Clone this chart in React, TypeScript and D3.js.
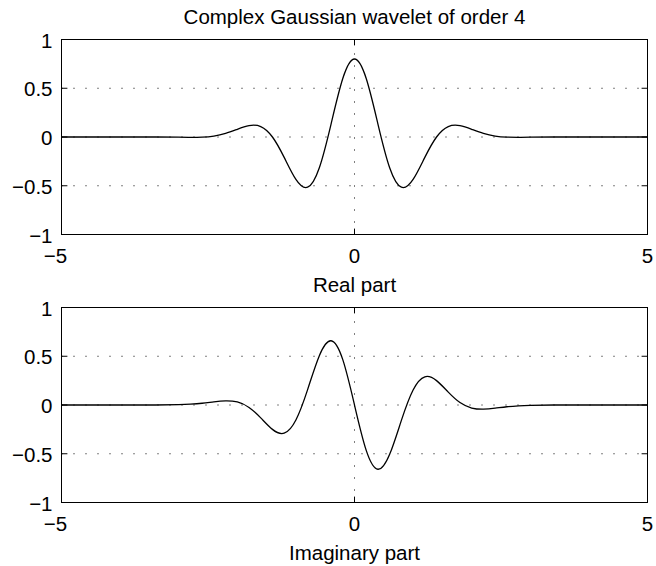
import React from "react";
import * as d3 from "d3";

// sample positions (x) and read values
const tValues = [-5, -4, -3.4, -3, -2.8, -2.6, -2.4, -2.2, -2, -1.8, -1.6, -1.4, -1.2, -1, -0.8, -0.6, -0.4, -0.2, 0,
  0.2, 0.4, 0.6, 0.8, 1, 1.2, 1.4, 1.6, 1.8, 2, 2.2, 2.4, 2.6, 2.8, 3, 3.4, 4, 5];
const realValues = [0, 0, 0, -0.002, -0.003, -0.001, 0.010, 0.037, 0.079, 0.116, 0.107, 0.000, -0.209, -0.435, -0.515, -0.315, 0.133, 0.600, 0.800,
  0.600, 0.133, -0.315, -0.515, -0.435, -0.209, 0.000, 0.107, 0.116, 0.079, 0.037, 0.010, -0.001, -0.003, -0.002, 0, 0, 0];
const imagValues = [0, 0, 0, 0.003, 0.008, 0.018, 0.033, 0.043, 0.031, -0.025, -0.132, -0.250, -0.289, -0.154, 0.158, 0.506, 0.659, 0.465, 0,
  -0.465, -0.659, -0.506, -0.158, 0.154, 0.289, 0.250, 0.132, 0.025, -0.031, -0.043, -0.033, -0.018, -0.008, -0.003, 0, 0, 0];

const xTicks = [-5, 0, 5];
const yTicks = [-1, -0.5, 0, 0.5, 1];
const titleText = "Complex Gaussian wavelet of order 4";
const panelLabels = ["Real part", "Imaginary part"];

const W = 656, H = 566;
const left = 61.5, right = 647.5;
const panelTops = [39.5, 307.5];
const panelH = 195;
const FONT = "'Liberation Sans', Arial, Helvetica, sans-serif";
const FS = 20.5;
const TICK = 5.9;

const fmt = (v: number) => (v < 0 ? "\u2212" + String(Math.abs(v)) : String(v));

function Panel({ top, values, label }: { top: number; values: number[]; label: string }) {
  const x = d3.scaleLinear().domain([-5, 5]).range([left, right]);
  const y = d3.scaleLinear().domain([-1, 1]).range([top + panelH, top]);
  const line = d3.line<number>()
    .x((_, i) => x(tValues[i]))
    .y((d) => y(d))
    .curve(d3.curveNatural);
  const bottom = top + panelH;
  return (
    <g>
      {/* grid */}
      {yTicks.filter((v) => v !== -1 && v !== 1).map((v) => (
        <line key={"gy" + v} x1={left} x2={right} y1={y(v)} y2={y(v)} stroke="#000" strokeWidth={1}
          strokeDasharray="1,11" />
      ))}
      {xTicks.filter((v) => v !== -5 && v !== 5).map((v) => (
        <line key={"gx" + v} x1={x(v)} x2={x(v)} y1={bottom} y2={top} stroke="#000" strokeWidth={1}
          strokeDasharray="1,11" />
      ))}
      {/* curve */}
      <path d={line(values) || ""} fill="none" stroke="#000" strokeWidth={1.3} />
      {/* box */}
      <rect x={left} y={top} width={right - left} height={panelH} fill="none" stroke="#000" strokeWidth={1} />
      {/* ticks */}
      {yTicks.map((v) => (
        <g key={"ty" + v}>
          <line x1={left} x2={left + TICK} y1={y(v)} y2={y(v)} stroke="#000" />
          <line x1={right} x2={right - TICK} y1={y(v)} y2={y(v)} stroke="#000" />
          <text x={52.5} y={y(v) + 8} textAnchor="end" fontFamily={FONT} fontSize={FS}>{fmt(v)}</text>
        </g>
      ))}
      {xTicks.map((v) => (
        <g key={"tx" + v}>
          <line x1={x(v)} x2={x(v)} y1={bottom} y2={bottom - TICK} stroke="#000" />
          <line x1={x(v)} x2={x(v)} y1={top} y2={top + TICK} stroke="#000" />
          <text x={x(v) + (v < 0 ? -6 : 0)} y={bottom + 28.5} textAnchor="middle" fontFamily={FONT} fontSize={FS}>{fmt(v)}</text>
        </g>
      ))}
      <text x={(left + right) / 2} y={bottom + 57} textAnchor="middle" fontFamily={FONT} fontSize={FS}>{label}</text>
    </g>
  );
}

export default function App() {
  return (
    <div style={{ position: "absolute", left: 0, top: 0 }}>
      <svg width={W} height={H} style={{ display: "block", background: "#fff" }}>
        <rect x={0} y={0} width={W} height={H} fill="#fff" />
        <text x={(left + right) / 2} y={23.7} textAnchor="middle" fontFamily={FONT} fontSize={FS}>{titleText}</text>
        <Panel top={panelTops[0]} values={realValues} label={panelLabels[0]} />
        <Panel top={panelTops[1]} values={imagValues} label={panelLabels[1]} />
      </svg>
    </div>
  );
}
